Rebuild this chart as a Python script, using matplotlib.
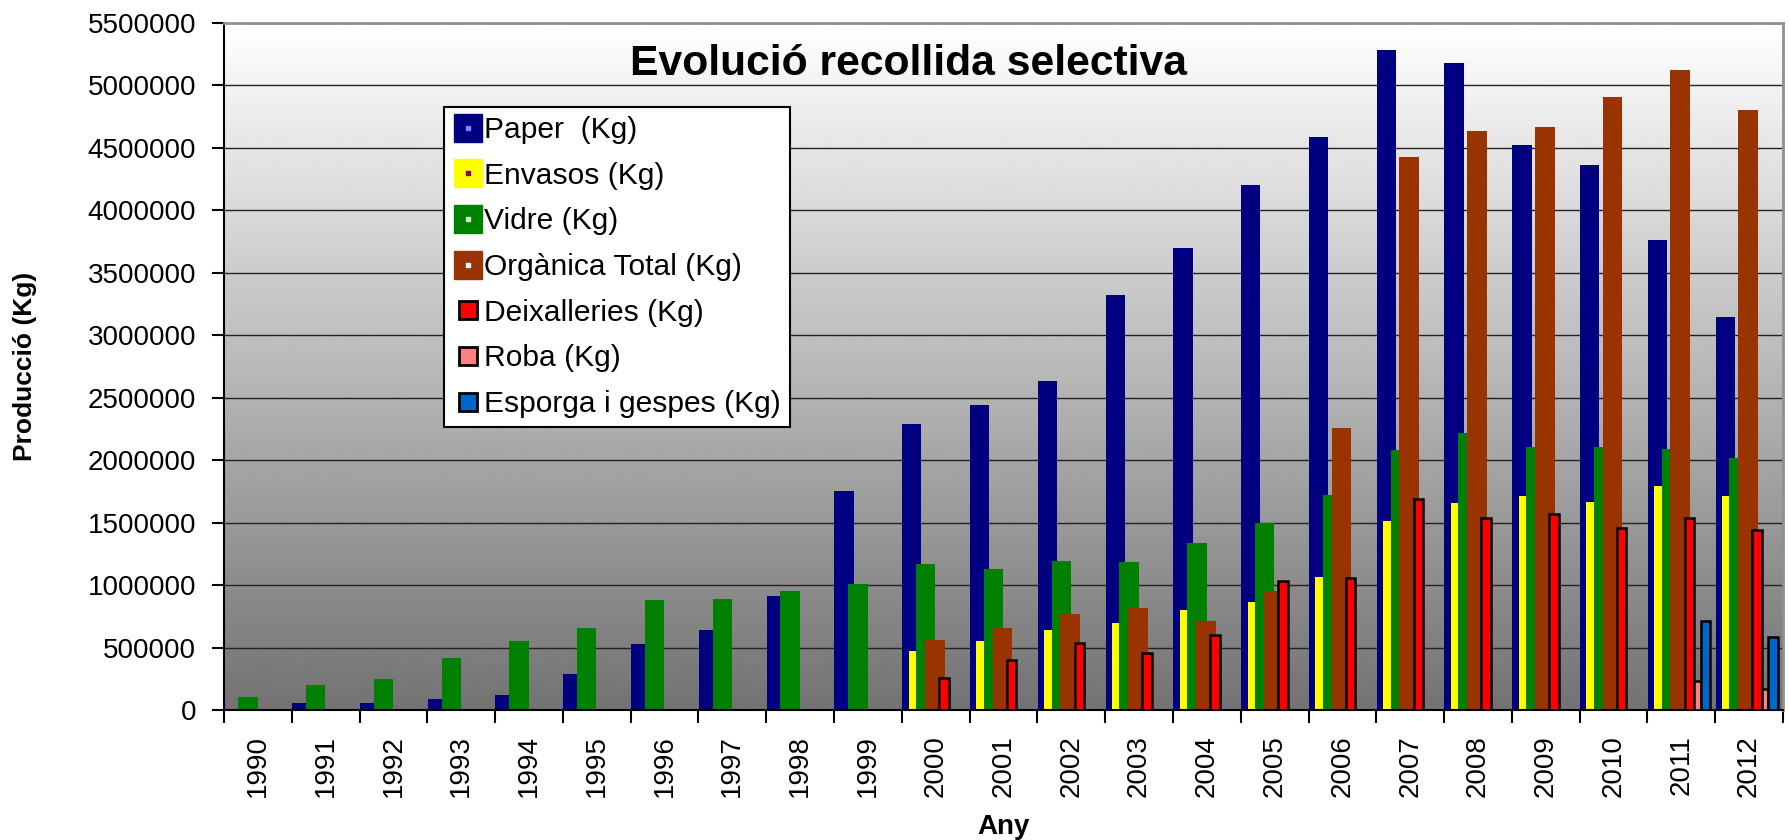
import matplotlib
matplotlib.use("Agg")
import matplotlib.pyplot as plt
import numpy as np
from matplotlib.lines import Line2D
from matplotlib.legend_handler import HandlerTuple

plt.rcParams['font.family'] = ['Liberation Sans', 'DejaVu Sans']

years = [str(y) for y in range(1990, 2013)]
nan = np.nan

paper = [nan, 55000, 55000, 90000, 120000, 290000, 530000, 640000, 910000, 1750000,
         2290000, 2440000, 2630000, 3320000, 3700000, 4200000, 4590000, 5280000,
         5180000, 4520000, 4360000, 3760000, 3150000]
envasos = [nan] * 10 + [470000, 555000, 640000, 700000, 800000, 865000, 1065000,
                        1515000, 1655000, 1710000, 1665000, 1795000, 1710000]
vidre = [105000, 200000, 250000, 415000, 555000, 655000, 880000, 890000, 950000, 1005000,
         1165000, 1125000, 1195000, 1185000, 1335000, 1500000, 1720000, 2085000,
         2220000, 2105000, 2105000, 2090000, 2020000]
organica = [nan] * 10 + [560000, 660000, 770000, 815000, 715000, 955000, 2260000,
                         4425000, 4635000, 4665000, 4905000, 5120000, 4800000]
deixalleries = [nan] * 10 + [257000, 398000, 540000, 457000, 600000, 1032000, 1060000,
                             1693000, 1540000, 1568000, 1456000, 1540000, 1440000]
roba = [nan] * 21 + [232000, 171000]
esporga = [nan] * 21 + [712000, 581000]

labels = ['Paper  (Kg)', 'Envasos (Kg)', 'Vidre (Kg)', 'Orgànica Total (Kg)',
          'Deixalleries (Kg)', 'Roba (Kg)', 'Esporga i gespes (Kg)']
colors = ['#000080', '#FFFF00', '#008000', '#993300', '#FF0000', '#FF8080', '#0066CC']
dots = ['#8080FF', '#800080', '#CCFFCC', '#CCFFFF']

# position of each series inside a year slot (left edge, width)
wide = [(0.005, 0.285), (0.10, 0.285), (0.21, 0.285), (0.34, 0.29)]
narrow = [(0.55, 0.14), (0.69, 0.095), (0.785, 0.14)]

fig = plt.figure(figsize=(17.89, 8.4), dpi=100)
ax = fig.add_axes([224 / 1789, 1 - 710 / 840, 1559 / 1789, 687 / 840])

x = np.arange(len(years))
grad = np.linspace(1.0, 0.45, 256).reshape(-1, 1)
ax.imshow(grad, extent=[-0.5, len(years) - 0.5, 0, 5500000], aspect='auto',
          cmap='gray', vmin=0, vmax=1, zorder=-2, origin='upper')

series = [paper, envasos, vidre, organica]
for vals, col, (off, w) in zip(series, colors[:4], wide):
    v = np.array(vals, dtype=float)
    m = ~np.isnan(v)
    ax.bar(x[m] - 0.5 + off, v[m], width=w, align='edge', color=col, zorder=2)

for vals, col, (off, w) in zip([deixalleries, roba, esporga], colors[4:], narrow):
    v = np.array(vals, dtype=float)
    m = ~np.isnan(v)
    ax.bar(x[m] - 0.5 + off, v[m], width=w, align='edge', color=col,
           edgecolor='black', linewidth=1.8, zorder=3)

ax.set_xlim(-0.5, len(years) - 0.5)
ax.set_ylim(0, 5500000)
yt = np.arange(0, 5500001, 500000)
ax.set_yticks(yt)
ax.set_yticklabels([str(int(t)) for t in yt])
ax.set_xticks(x)
ax.set_xticklabels(years, rotation=90)
ax.set_xticks(np.arange(-0.5, len(years)), minor=True)
ax.tick_params(axis='x', which='major', length=0, pad=18, labelsize=20)
ax.tick_params(axis='x', which='minor', length=9, width=1.5, direction='out')
ax.tick_params(axis='y', length=9, width=1.5, pad=11, labelsize=20)

ax.yaxis.grid(True, color='#222222', linewidth=1.0, zorder=-1)
ax.set_axisbelow(True)
for s in ['left', 'bottom']:
    ax.spines[s].set_color('black')
    ax.spines[s].set_linewidth(1.5)
for s in ['top', 'right']:
    ax.spines[s].set_color('#909090')
    ax.spines[s].set_linewidth(2)

ax.set_xlabel('Any', fontsize=20, fontweight='bold', labelpad=12)
ax.set_ylabel('Producció (Kg)', fontsize=19, fontweight='bold')
ax.yaxis.set_label_coords(-0.12, 0.5)

ax.text(0.439, 0.940, 'Evolució recollida selectiva', transform=ax.transAxes,
        ha='center', va='center', fontsize=30.7, fontweight='bold')

handles = []
for col, dot in zip(colors[:4], dots):
    big = Line2D([], [], linestyle='none', marker='s', markersize=20,
                 markerfacecolor=col, markeredgecolor=col)
    small = Line2D([], [], linestyle='none', marker='s', markersize=3,
                   markerfacecolor=dot, markeredgecolor=dot)
    handles.append((big, small))
for col in colors[4:]:
    handles.append(Line2D([], [], linestyle='none', marker='s', markersize=13,
                          markerfacecolor=col, markeredgecolor='black',
                          markeredgewidth=2))

leg = fig.legend(handles, labels, loc='upper left',
                 bbox_to_anchor=(444 / 1789, 1 - 107 / 840),
                 bbox_transform=fig.transFigure, fontsize=21.6,
                 handler_map={tuple: HandlerTuple(ndivide=1)},
                 frameon=True, fancybox=False, framealpha=1, edgecolor='black',
                 borderpad=0.3, labelspacing=0.59, handlelength=1.0,
                 handletextpad=0.05, borderaxespad=0)
leg.get_frame().set_linewidth(1.5)

fig.savefig('out.png', dpi=100)
